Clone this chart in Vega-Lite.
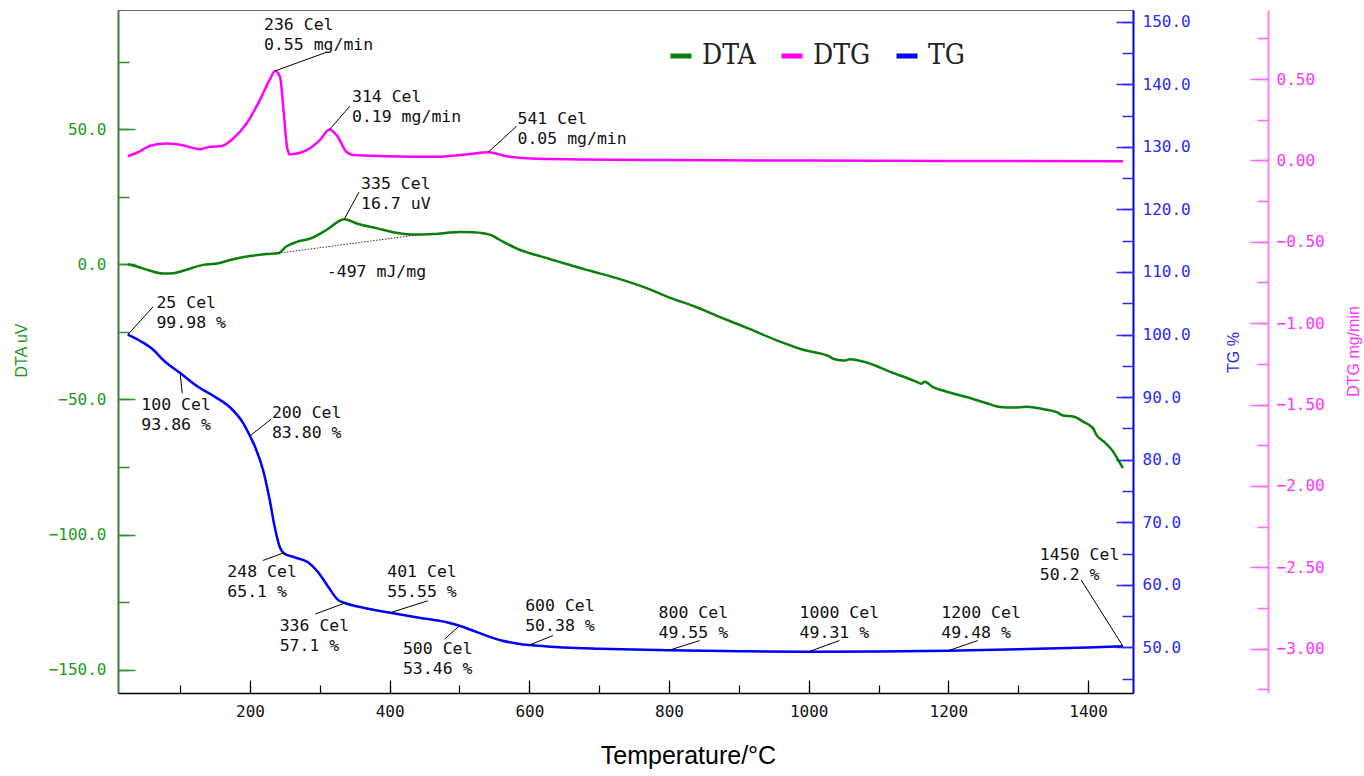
{
  "$schema": "https://vega.github.io/schema/vega-lite/v6.json",
  "width": 1015,
  "height": 683,
  "autosize": {"type": "none"},
  "padding": {"left": 118, "top": 10, "right": 231, "bottom": 83},
  "config": {"view": {"stroke": "#666", "strokeWidth": 1}, "axis": {"grid": false}},
  "resolve": {"scale": {"y": "independent"}, "axis": {"x": "independent"}},
  "datasets": {
    "curves": [
      {"s": "TG", "t": 25, "v": 99.98}, {"s": "TG", "t": 44, "v": 98.9}, {"s": "TG", "t": 59, "v": 97.8}, {"s": "TG", "t": 78, "v": 95.7},
      {"s": "TG", "t": 100, "v": 93.86}, {"s": "TG", "t": 125, "v": 91.7}, {"s": "TG", "t": 149, "v": 90.1}, {"s": "TG", "t": 173, "v": 88.2},
      {"s": "TG", "t": 190, "v": 85.9}, {"s": "TG", "t": 200, "v": 83.8}, {"s": "TG", "t": 207.5, "v": 82.0}, {"s": "TG", "t": 218.6, "v": 78.4},
      {"s": "TG", "t": 228.2, "v": 73.6}, {"s": "TG", "t": 235.3, "v": 69.3}, {"s": "TG", "t": 242.5, "v": 66.1}, {"s": "TG", "t": 248, "v": 65.1},
      {"s": "TG", "t": 264, "v": 64.4}, {"s": "TG", "t": 283, "v": 63.6}, {"s": "TG", "t": 297, "v": 62.1}, {"s": "TG", "t": 312, "v": 59.7},
      {"s": "TG", "t": 326, "v": 57.6}, {"s": "TG", "t": 336, "v": 57.1}, {"s": "TG", "t": 364, "v": 56.3}, {"s": "TG", "t": 401, "v": 55.55},
      {"s": "TG", "t": 440, "v": 54.8}, {"s": "TG", "t": 483, "v": 54.0}, {"s": "TG", "t": 500, "v": 53.46}, {"s": "TG", "t": 526, "v": 52.4},
      {"s": "TG", "t": 560, "v": 51.1}, {"s": "TG", "t": 584, "v": 50.6}, {"s": "TG", "t": 600, "v": 50.38}, {"s": "TG", "t": 650, "v": 50.0},
      {"s": "TG", "t": 700, "v": 49.8}, {"s": "TG", "t": 800, "v": 49.55}, {"s": "TG", "t": 900, "v": 49.4}, {"s": "TG", "t": 1000, "v": 49.31},
      {"s": "TG", "t": 1100, "v": 49.35}, {"s": "TG", "t": 1200, "v": 49.48}, {"s": "TG", "t": 1300, "v": 49.7}, {"s": "TG", "t": 1400, "v": 50.0},
      {"s": "TG", "t": 1450, "v": 50.2},
      {"s": "DTA", "t": 25, "v": 0.0}, {"s": "DTA", "t": 38, "v": -0.8}, {"s": "DTA", "t": 57, "v": -2.4}, {"s": "DTA", "t": 76, "v": -3.4},
      {"s": "DTA", "t": 90, "v": -3.3}, {"s": "DTA", "t": 109, "v": -2.0}, {"s": "DTA", "t": 133, "v": -0.2}, {"s": "DTA", "t": 150, "v": 0.2},
      {"s": "DTA", "t": 176, "v": 1.9}, {"s": "DTA", "t": 200, "v": 3.1}, {"s": "DTA", "t": 224, "v": 3.8}, {"s": "DTA", "t": 240, "v": 4.1},
      {"s": "DTA", "t": 252, "v": 6.6}, {"s": "DTA", "t": 267, "v": 8.3}, {"s": "DTA", "t": 286, "v": 9.5}, {"s": "DTA", "t": 310, "v": 12.8},
      {"s": "DTA", "t": 335, "v": 16.7}, {"s": "DTA", "t": 355, "v": 14.9}, {"s": "DTA", "t": 381, "v": 13.4}, {"s": "DTA", "t": 405, "v": 11.9},
      {"s": "DTA", "t": 434, "v": 11.0}, {"s": "DTA", "t": 462, "v": 11.2}, {"s": "DTA", "t": 480, "v": 11.6}, {"s": "DTA", "t": 500, "v": 12.0},
      {"s": "DTA", "t": 520, "v": 11.9}, {"s": "DTA", "t": 534, "v": 11.5}, {"s": "DTA", "t": 548, "v": 10.5}, {"s": "DTA", "t": 553, "v": 9.7},
      {"s": "DTA", "t": 558, "v": 9.0}, {"s": "DTA", "t": 586, "v": 5.4}, {"s": "DTA", "t": 601, "v": 4.1}, {"s": "DTA", "t": 629, "v": 2.0},
      {"s": "DTA", "t": 653, "v": 0.1}, {"s": "DTA", "t": 687, "v": -2.4}, {"s": "DTA", "t": 725, "v": -5.1}, {"s": "DTA", "t": 768, "v": -8.8},
      {"s": "DTA", "t": 806, "v": -12.8}, {"s": "DTA", "t": 835, "v": -15.4}, {"s": "DTA", "t": 873, "v": -19.5}, {"s": "DTA", "t": 916, "v": -24.0},
      {"s": "DTA", "t": 959, "v": -28.6}, {"s": "DTA", "t": 992, "v": -31.6}, {"s": "DTA", "t": 1028, "v": -33.9}, {"s": "DTA", "t": 1037, "v": -35.1},
      {"s": "DTA", "t": 1052, "v": -35.6}, {"s": "DTA", "t": 1059, "v": -35.1}, {"s": "DTA", "t": 1083, "v": -36.3}, {"s": "DTA", "t": 1116, "v": -39.7},
      {"s": "DTA", "t": 1154, "v": -43.4}, {"s": "DTA", "t": 1161, "v": -44.2}, {"s": "DTA", "t": 1166, "v": -43.4}, {"s": "DTA", "t": 1178, "v": -45.4},
      {"s": "DTA", "t": 1192, "v": -46.7}, {"s": "DTA", "t": 1226, "v": -49.1}, {"s": "DTA", "t": 1255, "v": -51.4}, {"s": "DTA", "t": 1274, "v": -52.8},
      {"s": "DTA", "t": 1293, "v": -53.0}, {"s": "DTA", "t": 1312, "v": -52.7}, {"s": "DTA", "t": 1336, "v": -53.6}, {"s": "DTA", "t": 1355, "v": -54.7},
      {"s": "DTA", "t": 1364, "v": -55.9}, {"s": "DTA", "t": 1379, "v": -56.3}, {"s": "DTA", "t": 1393, "v": -58.2}, {"s": "DTA", "t": 1407, "v": -60.6},
      {"s": "DTA", "t": 1412, "v": -63.1}, {"s": "DTA", "t": 1424, "v": -65.9}, {"s": "DTA", "t": 1436, "v": -69.3}, {"s": "DTA", "t": 1443, "v": -72.3},
      {"s": "DTA", "t": 1450, "v": -75.4},
      {"s": "DTG", "t": 25, "v": 0.026}, {"s": "DTG", "t": 38, "v": 0.047}, {"s": "DTG", "t": 54, "v": 0.084}, {"s": "DTG", "t": 57, "v": 0.09},
      {"s": "DTG", "t": 81, "v": 0.104}, {"s": "DTG", "t": 105, "v": 0.092}, {"s": "DTG", "t": 128, "v": 0.069}, {"s": "DTG", "t": 143, "v": 0.084},
      {"s": "DTG", "t": 159, "v": 0.088}, {"s": "DTG", "t": 176, "v": 0.135}, {"s": "DTG", "t": 195, "v": 0.227}, {"s": "DTG", "t": 214, "v": 0.37},
      {"s": "DTG", "t": 229, "v": 0.503}, {"s": "DTG", "t": 236, "v": 0.55}, {"s": "DTG", "t": 243, "v": 0.513}, {"s": "DTG", "t": 248, "v": 0.309},
      {"s": "DTG", "t": 253, "v": 0.084}, {"s": "DTG", "t": 257, "v": 0.037}, {"s": "DTG", "t": 281, "v": 0.063}, {"s": "DTG", "t": 300, "v": 0.125},
      {"s": "DTG", "t": 314, "v": 0.19}, {"s": "DTG", "t": 324, "v": 0.155}, {"s": "DTG", "t": 338, "v": 0.053}, {"s": "DTG", "t": 348, "v": 0.033},
      {"s": "DTG", "t": 396, "v": 0.026}, {"s": "DTG", "t": 467, "v": 0.022}, {"s": "DTG", "t": 515, "v": 0.039}, {"s": "DTG", "t": 541, "v": 0.05},
      {"s": "DTG", "t": 567, "v": 0.026}, {"s": "DTG", "t": 610, "v": 0.01}, {"s": "DTG", "t": 800, "v": 0.002}, {"s": "DTG", "t": 1000, "v": -0.001},
      {"s": "DTG", "t": 1200, "v": -0.003}, {"s": "DTG", "t": 1450, "v": -0.005}
    ],
    "base": [{"t": 240, "v": 4.1}, {"t": 443, "v": 11.0}],
    "annots": [
      {"s": "DTG", "t": 236, "v": 0.55, "t2": 310, "v2": 0.665, "tx": 220, "ty": 0.80, "label": "236 Cel\n0.55 mg/min"},
      {"s": "DTG", "t": 314, "v": 0.19, "t2": 343, "v2": 0.333, "tx": 346, "ty": 0.36, "label": "314 Cel\n0.19 mg/min"},
      {"s": "DTG", "t": 541, "v": 0.05, "t2": 582, "v2": 0.211, "tx": 583, "ty": 0.223, "label": "541 Cel\n0.05 mg/min"},
      {"s": "DTA", "t": 335, "v": 16.7, "t2": 356, "v2": 26.7, "tx": 359, "ty": 27.8, "label": "335 Cel\n16.7 uV"},
      {"s": "DTA", "tx": 310, "ty": -4.7, "label": "-497 mJ/mg"},
      {"s": "TG", "t": 25, "v": 99.98, "t2": 61, "v2": 104.4, "tx": 66, "ty": 104.2, "label": "25 Cel\n99.98 %"},
      {"s": "TG", "t": 100, "v": 93.86, "t2": 103, "v2": 90.64, "tx": 44.4, "ty": 87.97, "label": "100 Cel\n93.86 %"},
      {"s": "TG", "t": 200, "v": 83.8, "t2": 230.4, "v2": 86.5, "tx": 231.4, "ty": 86.65, "label": "200 Cel\n83.80 %"},
      {"s": "TG", "t": 248, "v": 65.1, "t2": 218.6, "v2": 63.9, "tx": 167.5, "ty": 61.18, "label": "248 Cel\n65.1 %"},
      {"s": "TG", "t": 336, "v": 57.1, "t2": 293.4, "v2": 55.34, "tx": 242.5, "ty": 52.67, "label": "336 Cel\n57.1 %"},
      {"s": "TG", "t": 401, "v": 55.55, "t2": 454.7, "v2": 57.46, "tx": 396.5, "ty": 61.18, "label": "401 Cel\n55.55 %"},
      {"s": "TG", "t": 500, "v": 53.46, "t2": 478.7, "v2": 51.34, "tx": 419, "ty": 49.0, "label": "500 Cel\n53.46 %"},
      {"s": "TG", "t": 600, "v": 50.38, "t2": 634, "v2": 51.9, "tx": 594, "ty": 55.75, "label": "600 Cel\n50.38 %"},
      {"s": "TG", "t": 800, "v": 49.55, "t2": 844, "v2": 51.1, "tx": 785, "ty": 54.74, "label": "800 Cel\n49.55 %"},
      {"s": "TG", "t": 1000, "v": 49.31, "t2": 1044, "v2": 51.1, "tx": 987, "ty": 54.74, "label": "1000 Cel\n49.31 %"},
      {"s": "TG", "t": 1200, "v": 49.48, "t2": 1242, "v2": 51.1, "tx": 1190, "ty": 54.74, "label": "1200 Cel\n49.48 %"},
      {"s": "TG", "t": 1450, "v": 50.2, "t2": 1390, "v2": 60.8, "tx": 1331, "ty": 64.0, "label": "1450 Cel\n50.2 %"}
    ]
  },
  "layer": [
    {
      "data": {"name": "curves"},
      "transform": [{"filter": "datum.s === 'TG'"}],
      "mark": {"type": "line", "strokeWidth": 2.5, "interpolate": "monotone"},
      "encoding": {
        "x": {"field": "t", "type": "quantitative", "scale": {"domain": [11, 1464.4], "nice": false, "zero": false},
          "axis": {"orient": "bottom", "values": [200, 400, 600, 800, 1000, 1200, 1400], "format": "d", "ticks": false, "domain": true, "domainColor": "#000", "domainWidth": 1.5,
            "labelFont": "DejaVu Sans Mono", "labelFontSize": 16, "labelColor": "#111", "labelPadding": 10,
            "title": "Temperature/°C", "titleFont": "Liberation Sans", "titleFontSize": 25, "titleFontWeight": "normal", "titleColor": "#000",
            "titleX": 570, "titleY": 70, "titleAlign": "center", "titleBaseline": "alphabetic"}},
        "y": {"field": "v", "type": "quantitative", "scale": {"domain": [42.72, 151.87], "nice": false, "zero": false},
          "axis": {"orient": "right", "values": [50, 60, 70, 80, 90, 100, 110, 120, 130, 140, 150], "format": ".1f", "ticks": false, "domain": true, "domainColor": "#0000e6", "domainWidth": 2,
            "labelFont": "DejaVu Sans Mono", "labelFontSize": 16, "labelColor": "#2a2aff", "labelPadding": 9,
            "title": "TG %", "titleFont": "Liberation Sans", "titleFontSize": 16, "titleFontWeight": "normal", "titleColor": "#2a2ae6",
            "titleX": 105, "titleY": 342, "titleAngle": -90, "titleAlign": "center", "titleBaseline": "alphabetic"}},
        "color": {"field": "s", "type": "nominal", "scale": {"domain": ["DTA", "DTG", "TG"], "range": ["#0a800a", "#ff00ff", "#0000ff"]},
          "legend": {"orient": "none", "legendX": 549, "legendY": 32, "direction": "horizontal", "title": null, "symbolType": "stroke", "symbolSize": 441, "symbolStrokeWidth": 5,
            "labelFont": "DejaVu Serif Condensed, DejaVu Serif", "labelFontSize": 28, "labelColor": "#222", "labelOffset": 7, "columnPadding": 15, "padding": 0}}
      }
    },
    {
      "data": {"name": "annots"},
      "transform": [{"filter": "datum.s === 'TG'"}],
      "mark": {"type": "rule", "color": "#000", "strokeWidth": 1},
      "encoding": {
        "x": {"field": "t", "type": "quantitative", "scale": {"domain": [11, 1464.4], "nice": false, "zero": false}, "axis": null},
        "x2": {"field": "t2"},
        "y": {"field": "v", "type": "quantitative", "scale": {"domain": [42.72, 151.87], "nice": false, "zero": false},
          "axis": {"orient": "right", "values": [50, 60, 70, 80, 90, 100, 110, 120, 130, 140, 150], "labels": false, "domain": false, "ticks": true, "tickSize": -17, "tickColor": "#2a2aff", "tickWidth": 1.5, "title": null}},
        "y2": {"field": "v2"}
      }
    },
    {
      "data": {"name": "annots"},
      "transform": [{"filter": "datum.s === 'TG'"}],
      "mark": {"type": "text", "align": "left", "baseline": "alphabetic", "lineBreak": "\n", "lineHeight": 20, "font": "DejaVu Sans Mono", "fontSize": 16.5, "color": "#111"},
      "encoding": {
        "x": {"field": "tx", "type": "quantitative", "scale": {"domain": [11, 1464.4], "nice": false, "zero": false}, "axis": null},
        "y": {"field": "ty", "type": "quantitative", "scale": {"domain": [42.72, 151.87], "nice": false, "zero": false},
          "axis": {"orient": "right", "values": [45, 50, 55, 60, 65, 70, 75, 80, 85, 90, 95, 100, 105, 110, 115, 120, 125, 130, 135, 140, 145, 150], "labels": false, "domain": false, "ticks": true, "tickSize": -11, "tickColor": "#2a2aff", "tickWidth": 1.5, "title": null}},
        "text": {"field": "label"}
      }
    },
    {
      "data": {"name": "curves"},
      "transform": [{"filter": "datum.s === 'DTA'"}],
      "mark": {"type": "line", "strokeWidth": 2.5, "interpolate": "monotone"},
      "encoding": {
        "x": {"field": "t", "type": "quantitative", "scale": {"domain": [11, 1464.4], "nice": false, "zero": false},
          "axis": {"orient": "bottom", "values": [200, 400, 600, 800, 1000, 1200, 1400], "labels": false, "domain": false, "ticks": true, "tickSize": -13, "tickColor": "#000", "tickWidth": 1.2, "title": null}},
        "y": {"field": "v", "type": "quantitative", "scale": {"domain": [-158.6, 94.1], "nice": false, "zero": false},
          "axis": {"orient": "left", "values": [-150, -100, -50, 0, 50], "format": ".1f", "ticks": false, "domain": true, "domainColor": "#3a7f3a", "domainWidth": 2,
            "labelFont": "DejaVu Sans Mono", "labelFontSize": 16, "labelColor": "#1e9a1e", "labelPadding": 12,
            "title": "DTA uV", "titleFont": "Liberation Sans", "titleFontSize": 16, "titleFontWeight": "normal", "titleColor": "#1e9a1e",
            "titleX": -92, "titleY": 340, "titleAngle": -90, "titleAlign": "center", "titleBaseline": "alphabetic"}},
        "color": {"field": "s", "type": "nominal", "scale": {"domain": ["DTA", "DTG", "TG"], "range": ["#0a800a", "#ff00ff", "#0000ff"]},
          "legend": {"orient": "none", "legendX": 549, "legendY": 32, "direction": "horizontal", "title": null, "symbolType": "stroke", "symbolSize": 441, "symbolStrokeWidth": 5,
            "labelFont": "DejaVu Serif Condensed, DejaVu Serif", "labelFontSize": 28, "labelColor": "#222", "labelOffset": 7, "columnPadding": 15, "padding": 0}}
      }
    },
    {
      "data": {"name": "base"},
      "mark": {"type": "line", "color": "#333", "strokeWidth": 1, "strokeDash": [1.5, 1.5]},
      "encoding": {
        "x": {"field": "t", "type": "quantitative", "scale": {"domain": [11, 1464.4], "nice": false, "zero": false},
          "axis": {"orient": "bottom", "values": [100, 200, 300, 400, 500, 600, 700, 800, 900, 1000, 1100, 1200, 1300, 1400], "labels": false, "domain": false, "ticks": true, "tickSize": -8, "tickColor": "#000", "tickWidth": 1.2, "title": null}},
        "y": {"field": "v", "type": "quantitative", "scale": {"domain": [-158.6, 94.1], "nice": false, "zero": false},
          "axis": {"orient": "left", "values": [-150, -100, -50, 0, 50], "labels": false, "domain": false, "ticks": true, "tickSize": -17, "tickColor": "#2f8f2f", "tickWidth": 1.5, "title": null}}
      }
    },
    {
      "data": {"name": "annots"},
      "transform": [{"filter": "datum.s === 'DTA' && datum.t2 != null"}],
      "mark": {"type": "rule", "color": "#000", "strokeWidth": 1},
      "encoding": {
        "x": {"field": "t", "type": "quantitative", "scale": {"domain": [11, 1464.4], "nice": false, "zero": false}, "axis": null},
        "x2": {"field": "t2"},
        "y": {"field": "v", "type": "quantitative", "scale": {"domain": [-158.6, 94.1], "nice": false, "zero": false},
          "axis": {"orient": "left", "values": [-150, -125, -100, -75, -50, -25, 0, 25, 50, 75], "labels": false, "domain": false, "ticks": true, "tickSize": -11, "tickColor": "#2f8f2f", "tickWidth": 1.5, "title": null}},
        "y2": {"field": "v2"}
      }
    },
    {
      "data": {"name": "annots"},
      "transform": [{"filter": "datum.s === 'DTA'"}],
      "mark": {"type": "text", "align": "left", "baseline": "alphabetic", "lineBreak": "\n", "lineHeight": 20, "font": "DejaVu Sans Mono", "fontSize": 16.5, "color": "#111"},
      "encoding": {
        "x": {"field": "tx", "type": "quantitative", "scale": {"domain": [11, 1464.4], "nice": false, "zero": false}, "axis": null},
        "y": {"field": "ty", "type": "quantitative", "scale": {"domain": [-158.6, 94.1], "nice": false, "zero": false}, "axis": null},
        "text": {"field": "label"}
      }
    },
    {
      "data": {"name": "curves"},
      "transform": [{"filter": "datum.s === 'DTG'"}],
      "mark": {"type": "line", "strokeWidth": 2.5, "interpolate": "monotone"},
      "encoding": {
        "x": {"field": "t", "type": "quantitative", "scale": {"domain": [11, 1464.4], "nice": false, "zero": false}, "axis": null},
        "y": {"field": "v", "type": "quantitative", "scale": {"domain": [-3.272, 0.924], "nice": false, "zero": false},
          "axis": {"orient": "right", "offset": 135, "values": [-3, -2.5, -2, -1.5, -1, -0.5, 0, 0.5], "format": ".2f", "ticks": false, "domain": true, "domainColor": "#ff80ff", "domainWidth": 2,
            "labelFont": "DejaVu Sans Mono", "labelFontSize": 16, "labelColor": "#ff33ff", "labelPadding": 8,
            "title": "DTG mg/min", "titleFont": "Liberation Sans", "titleFontSize": 16, "titleFontWeight": "normal", "titleColor": "#ff33ff",
            "titleX": 90, "titleY": 341, "titleAngle": -90, "titleAlign": "center", "titleBaseline": "alphabetic"}},
        "color": {"field": "s", "type": "nominal", "scale": {"domain": ["DTA", "DTG", "TG"], "range": ["#0a800a", "#ff00ff", "#0000ff"]},
          "legend": {"orient": "none", "legendX": 549, "legendY": 32, "direction": "horizontal", "title": null, "symbolType": "stroke", "symbolSize": 441, "symbolStrokeWidth": 5,
            "labelFont": "DejaVu Serif Condensed, DejaVu Serif", "labelFontSize": 28, "labelColor": "#222", "labelOffset": 7, "columnPadding": 15, "padding": 0}}
      }
    },
    {
      "data": {"name": "annots"},
      "transform": [{"filter": "datum.s === 'DTG'"}],
      "mark": {"type": "rule", "color": "#000", "strokeWidth": 1},
      "encoding": {
        "x": {"field": "t", "type": "quantitative", "scale": {"domain": [11, 1464.4], "nice": false, "zero": false}, "axis": null},
        "x2": {"field": "t2"},
        "y": {"field": "v", "type": "quantitative", "scale": {"domain": [-3.272, 0.924], "nice": false, "zero": false},
          "axis": {"orient": "right", "offset": 135, "values": [-3, -2.5, -2, -1.5, -1, -0.5, 0, 0.5], "labels": false, "domain": false, "ticks": true, "tickSize": -18, "tickColor": "#ff66ff", "tickWidth": 1.5, "title": null}},
        "y2": {"field": "v2"}
      }
    },
    {
      "data": {"name": "annots"},
      "transform": [{"filter": "datum.s === 'DTG'"}],
      "mark": {"type": "text", "align": "left", "baseline": "alphabetic", "lineBreak": "\n", "lineHeight": 20, "font": "DejaVu Sans Mono", "fontSize": 16.5, "color": "#111"},
      "encoding": {
        "x": {"field": "tx", "type": "quantitative", "scale": {"domain": [11, 1464.4], "nice": false, "zero": false}, "axis": null},
        "y": {"field": "ty", "type": "quantitative", "scale": {"domain": [-3.272, 0.924], "nice": false, "zero": false},
          "axis": {"orient": "right", "offset": 135, "values": [-3.25, -3, -2.75, -2.5, -2.25, -2, -1.75, -1.5, -1.25, -1, -0.75, -0.5, -0.25, 0, 0.25, 0.5, 0.75], "labels": false, "domain": false, "ticks": true, "tickSize": -11, "tickColor": "#ff66ff", "tickWidth": 1.5, "title": null}},
        "text": {"field": "label"}
      }
    }
  ]
}
